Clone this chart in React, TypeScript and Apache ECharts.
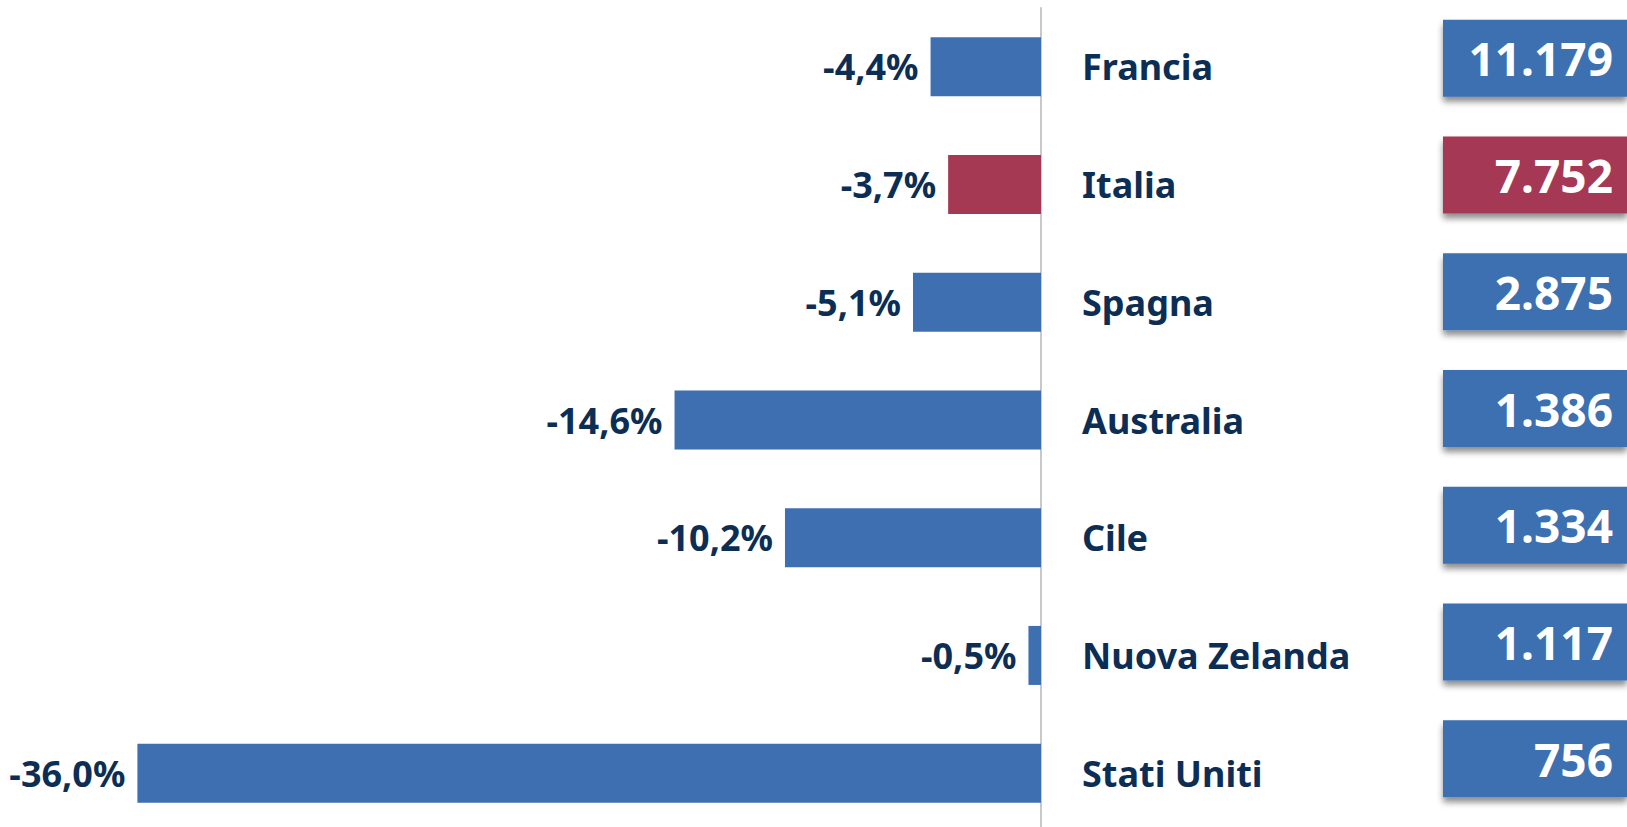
import React, { useEffect, useRef } from "react";
import * as echarts from "echarts";

const countries = ["Francia", "Italia", "Spagna", "Australia", "Cile", "Nuova Zelanda", "Stati Uniti"];
const changePct = [-4.4, -3.7, -5.1, -14.6, -10.2, -0.5, -36.0];
const totals = [11179, 7752, 2875, 1386, 1334, 1117, 756];
const highlight = "Italia";

const BLUE = "#3D6FB1";
const RED = "#A53954";
const NAVY = "#0C2E55";
const FONT = "'Noto Sans', 'Open Sans', sans-serif";

const fmtThousands = (n: number) => n.toString().replace(/\B(?=(\d{3})+(?!\d))/g, ".");
const fmtPct = (v: number) => v.toFixed(1).replace(".", ",") + "%";

export default function App() {
  const ref = useRef<HTMLDivElement>(null);
  useEffect(() => {
    document.body.style.margin = "0";
    document.body.style.overflow = "hidden";
    const chart = echarts.init(ref.current!, null, { renderer: "svg" });
    chart.setOption({
      animation: false,
      backgroundColor: "#ffffff",
      grid: [
        { left: 37, right: 586, top: 8, bottom: 0 },
        { left: 1443, right: 0, top: 0, bottom: 15 },
      ],
      xAxis: [
        { type: "value", gridIndex: 0, min: -40, max: 0, show: false },
        { type: "value", gridIndex: 1, min: 0, max: 1, show: false },
      ],
      yAxis: [
        {
          type: "category",
          gridIndex: 0,
          data: countries,
          inverse: true,
          position: "right",
          axisLine: { show: true, onZero: false, lineStyle: { color: "#c8c8c8", width: 2 } },
          axisTick: { show: false },
          splitLine: { show: false },
          axisLabel: {
            margin: 41,
            color: NAVY,
            fontSize: 36,
            fontWeight: "bold",
            fontFamily: FONT,
          },
        },
        {
          type: "category",
          gridIndex: 1,
          data: countries,
          inverse: true,
          show: false,
        },
      ],
      series: [
        {
          type: "bar",
          xAxisIndex: 0,
          yAxisIndex: 0,
          barWidth: 59,
          data: changePct.map((v, i) => ({
            value: v,
            itemStyle: { color: countries[i] === highlight ? RED : BLUE },
          })),
          label: {
            show: true,
            position: "left",
            distance: 12,
            color: NAVY,
            fontSize: 36,
            fontWeight: "bold",
            fontFamily: FONT,
            formatter: (p: any) => fmtPct(p.value),
          },
        },
        {
          type: "bar",
          xAxisIndex: 1,
          yAxisIndex: 1,
          barWidth: 77,
          data: totals.map((t, i) => ({
            value: 1,
            itemStyle: {
              color: countries[i] === highlight ? RED : BLUE,
              shadowColor: "rgba(0,0,0,0.45)",
              shadowBlur: 6,
              shadowOffsetY: 5,
            },
          })),
          label: {
            show: true,
            position: "insideRight",
            distance: 14,
            color: "#ffffff",
            fontSize: 46,
            fontWeight: "bold",
            fontFamily: FONT,
            formatter: (p: any) => fmtThousands(totals[p.dataIndex]),
          },
        },
      ],
    });
    return () => chart.dispose();
  }, []);
  return <div ref={ref} style={{ width: 1627, height: 832 }} />;
}
